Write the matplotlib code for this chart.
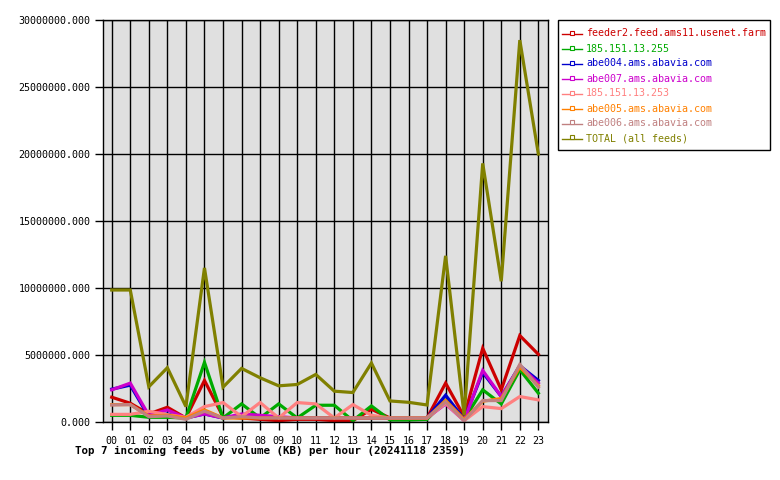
import matplotlib
matplotlib.use("Agg")
import matplotlib.pyplot as plt
from matplotlib.lines import Line2D
from matplotlib.patches import Rectangle

hours = ["00","01","02","03","04","05","06","07","08","09","10","11",
         "12","13","14","15","16","17","18","19","20","21","22","23"]

feeder2 = [1.85,1.4,0.6,1.1,0.3,3.1,0.4,0.3,0.2,0.1,0.2,0.2,0.1,0.1,0.95,0.3,0.3,0.3,2.9,0.4,5.5,2.4,6.45,5.05]
ip255   = [0.5,0.5,0.35,0.35,0.3,4.45,0.3,1.35,0.3,1.35,0.3,1.25,1.25,0.1,1.2,0.15,0.15,0.2,1.6,0.2,2.4,1.35,3.9,2.15]
abe004  = [2.45,2.75,0.4,0.6,0.3,0.6,0.3,0.5,0.4,0.3,0.3,0.3,0.3,0.3,0.3,0.3,0.3,0.3,2.0,0.2,3.7,1.9,4.2,3.1]
abe007  = [2.4,2.9,0.5,0.9,0.3,0.6,0.3,0.6,0.5,0.4,0.3,0.3,0.3,0.3,0.3,0.3,0.3,0.3,1.35,0.1,3.85,1.9,4.2,2.9]
ip253   = [0.57,0.57,0.8,0.55,0.35,1.15,1.45,0.4,1.45,0.3,1.45,1.35,0.3,1.3,0.5,0.3,0.3,0.3,1.4,0.1,1.15,1.0,1.9,1.65]
abe005  = [1.3,1.3,0.45,0.5,0.3,0.9,0.3,0.3,0.3,0.3,0.3,0.3,0.3,0.3,0.3,0.3,0.3,0.3,1.6,0.2,1.55,1.75,4.1,2.7]
abe006  = [1.27,1.3,0.4,0.45,0.2,0.8,0.3,0.4,0.3,0.3,0.3,0.3,0.3,0.3,0.3,0.3,0.3,0.3,1.5,0.1,1.6,1.6,4.3,2.6]
total   = [9.85,9.85,2.63,4.05,1.15,11.5,2.6,4.0,3.3,2.7,2.8,3.55,2.3,2.2,4.4,1.57,1.47,1.27,12.4,0.5,19.3,10.5,28.5,20.0]

series_names = ["feeder2.feed.ams11.usenet.farm","185.151.13.255","abe004.ams.abavia.com",
                "abe007.ams.abavia.com","185.151.13.253","abe005.ams.abavia.com",
                "abe006.ams.abavia.com","TOTAL (all feeds)"]
series_vals = [feeder2, ip255, abe004, abe007, ip253, abe005, abe006, total]
colors = ["#cc0000","#00aa00","#0000cc","#cc00cc","#ff8080","#ff8000","#c08080","#808000"]
yticks = [0,5,10,15,20,25,30]

W, H = 780, 480
def fx(px): return px / W
def fy(py): return 1 - py / H

mono = "DejaVu Sans Mono"
fig = plt.figure(figsize=(7.8,4.8), dpi=100)
ax = fig.add_axes([fx(103), fy(422), 445/W, 402/H])
ax.set_facecolor("#e0e0e0")
x = list(range(len(hours)))
for vals, c in zip(series_vals, colors):
    ax.plot(x, [v*1e6 for v in vals], color=c, lw=2.3, solid_joinstyle="miter")
ax.set_xlim(-0.47, 23.52)
ax.set_ylim(0, 30e6)
ax.set_xticks(x)
ax.set_xticklabels(hours, fontfamily=mono, fontsize=7.2)
ax.set_yticks([t*1e6 for t in yticks])
ax.set_yticklabels(["%d.000" % (t*1000000) for t in yticks], fontfamily=mono, fontsize=7.2)
ax.grid(True, color="black", lw=1)
ax.set_axisbelow(True)
for s in ax.spines.values():
    s.set_color("black"); s.set_linewidth(1)
ax.tick_params(axis="y", length=6, width=1, color="black", pad=3)
ax.tick_params(axis="x", length=6, width=1, color="black", pad=4)
fig.text(fx(75), fy(451), "Top 7 incoming feeds by volume (KB) per hour (20241118 2359)",
         fontfamily=mono, fontweight="bold", fontsize=7.8, va="center", ha="left")

# legend drawn manually
fig.patches.append(Rectangle((fx(558), fy(150)), (770-558)/W, 130/H, transform=fig.transFigure,
                             facecolor="white", edgecolor="black", lw=1))
for i, (name, c) in enumerate(zip(series_names, colors)):
    yy = 33.5 + 15*i
    fig.add_artist(Line2D([fx(562), fx(582)], [fy(yy), fy(yy)], color=c, lw=1,
                          transform=fig.transFigure))
    fig.add_artist(Line2D([fx(571.5)], [fy(yy-1)], color=c, marker="s", markersize=2.2,
                          markerfacecolor="white", markeredgecolor=c, markeredgewidth=0.8,
                          transform=fig.transFigure))
    fig.text(fx(586), fy(yy), name, color=c, fontfamily=mono, fontsize=7.2,
             va="center", ha="left")

fig.savefig("out.png", dpi=100, facecolor="white")
